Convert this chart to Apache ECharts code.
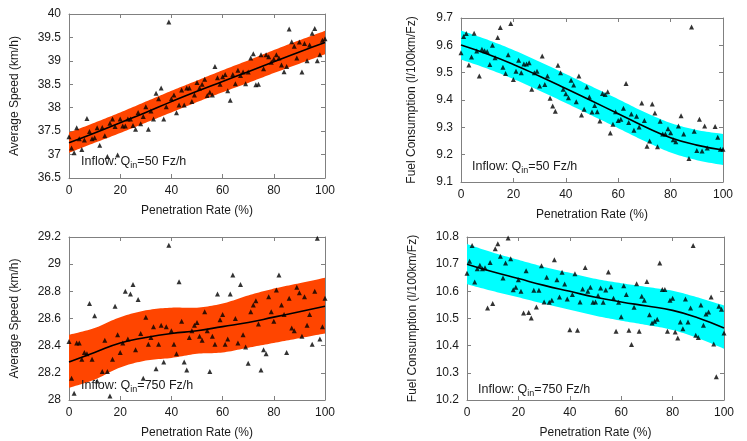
<!DOCTYPE html>
<html><head><meta charset="utf-8">
<script src="https://cdn.jsdelivr.net/npm/echarts@6/dist/echarts.min.js"></script>
<style>html,body{margin:0;padding:0;background:#fff}#c{width:747px;height:441px}</style>
</head><body><div id="c"></div>
<script>
// ---------- data ----------
const rate = [0,1,2,3,4,5,6,7,8,9,10,11,12,13,14,15,16,17,18,19,20,21,22,23,24,25,26,27,28,29,30,31,32,33,34,35,36,37,38,39,40,41,42,43,44,45,46,47,48,49,50,51,52,53,54,55,56,57,58,59,60,61,62,63,64,65,66,67,68,69,70,71,72,73,74,75,76,77,78,79,80,81,82,83,84,85,86,87,88,89,90,91,92,93,94,95,96,97,98,99,100];
const fitRate = [0,10,20,30,40,50,60,70,80,90,100];

const speed50 = [37.38,37.14,37.04,37.57,37.34,37.11,37.31,37.77,37.49,37.34,
 37.36,37.57,37.20,37.58,37.40,36.96,37.67,37.76,37.60,36.99,
 37.76,37.61,37.61,37.76,37.76,37.62,37.54,37.90,37.66,37.81,
 38.02,37.54,37.93,37.76,38.31,38.19,38.42,37.76,38.02,39.83,
 38.19,38.27,37.89,38.06,38.38,38.06,38.42,38.42,38.13,38.27,
 38.54,38.42,38.50,38.61,38.26,38.33,38.27,38.88,38.64,38.50,
 38.66,38.71,38.36,38.16,38.71,38.51,38.80,38.69,38.76,38.51,
 38.76,39.06,39.15,38.49,38.50,39.13,38.83,39.13,39.09,38.97,
 39.04,39.13,39.06,38.91,38.77,38.88,39.68,39.41,39.31,39.06,
 39.40,38.76,39.37,39.00,39.34,39.59,39.69,39.00,39.13,39.44,39.47];
const speed50Fit = [37.25,37.46,37.68,37.90,38.13,38.35,38.56,38.77,38.98,39.19,39.39];
const speed50Lo  = [37.04,37.25,37.46,37.68,37.90,38.12,38.33,38.53,38.74,38.94,39.14];
const speed50Hi  = [37.47,37.68,37.90,38.13,38.36,38.58,38.80,39.01,39.23,39.44,39.64];

const fuel50 = [9.573,9.632,9.643,9.528,9.557,9.644,9.579,9.488,9.586,9.580,
 9.577,9.530,9.600,9.555,9.629,9.665,9.520,9.497,9.566,9.680,
 9.475,9.505,9.545,9.500,9.532,9.532,9.536,9.439,9.500,9.505,
 9.451,9.561,9.457,9.488,9.406,9.378,9.359,9.527,9.500,9.439,
 9.423,9.408,9.472,9.455,9.394,9.488,9.345,9.366,9.448,9.411,
 9.356,9.380,9.357,9.323,9.424,9.420,9.430,9.279,9.311,9.357,
 9.325,9.330,9.370,9.460,9.318,9.349,9.289,9.341,9.301,9.389,
 9.325,9.231,9.250,9.385,9.352,9.229,9.322,9.276,9.276,9.295,
 9.280,9.255,9.247,9.305,9.342,9.276,'-',9.186,9.667,9.286,
 9.215,9.330,9.213,9.305,9.224,'-','-',9.303,9.264,9.220,9.220];
const fuel50Fit = [9.601,9.568,9.530,9.487,9.442,9.396,9.350,9.303,9.262,9.235,9.217];
const fuel50Lo  = [9.548,9.515,9.477,9.434,9.389,9.343,9.297,9.250,9.208,9.180,9.162];
const fuel50Hi  = [9.654,9.621,9.583,9.540,9.495,9.449,9.403,9.356,9.316,9.290,9.276];

const speed750 = [28.43,28.16,28.05,28.42,28.42,28.30,28.35,28.34,28.71,28.30,
 28.62,28.14,'-',28.21,28.44,28.21,28.03,28.30,28.69,28.48,
 28.35,28.42,28.80,28.45,28.78,28.85,28.37,28.74,28.49,28.16,
 28.61,28.41,28.46,28.54,28.23,28.41,28.55,28.28,28.54,29.14,
 28.51,28.41,28.34,28.87,28.58,28.28,28.22,28.46,28.51,28.55,
 28.57,28.47,28.44,28.65,28.51,28.21,28.47,28.41,28.78,28.59,
 28.63,28.41,28.45,28.78,28.92,28.60,28.42,28.85,28.48,28.39,
 28.27,28.65,28.70,28.73,28.56,28.22,28.37,28.34,28.76,28.65,
 28.58,28.81,28.92,28.70,28.63,28.35,28.75,28.53,28.51,28.83,
 28.79,28.47,28.76,28.55,28.63,28.41,28.80,29.19,28.45,28.54,28.75];
const speed750Fit = [28.28,28.35,28.42,28.46,28.49,28.51,28.54,28.57,28.61,28.65,28.69];
const speed750Lo  = [28.09,28.15,28.24,28.29,28.31,28.34,28.35,28.385,28.42,28.455,28.49];
const speed750Hi  = [28.48,28.53,28.61,28.66,28.68,28.68,28.71,28.77,28.82,28.86,28.90];

const fuel750 = [10.667,10.711,10.769,10.634,10.683,10.696,10.683,10.687,10.539,10.706,
 10.555,10.757,10.775,10.729,10.649,10.704,10.796,10.720,10.606,10.615,
 10.643,10.600,10.520,10.676,10.522,10.502,10.604,10.542,10.604,10.694,
 10.561,10.652,10.560,10.567,10.716,10.643,10.579,10.670,10.627,10.572,
 10.459,10.588,10.665,10.457,10.561,10.609,10.688,10.600,10.615,10.560,
 10.561,10.585,10.612,10.560,10.605,10.671,10.617,10.575,10.453,10.560,
 10.506,10.621,10.588,10.457,10.404,10.541,10.628,10.453,10.582,10.567,
 10.636,10.514,10.483,10.490,10.497,10.704,10.607,10.607,10.453,10.567,
 10.575,10.450,10.428,10.487,10.462,10.572,10.487,10.539,10.769,10.438,
 10.430,10.550,10.475,10.517,10.524,10.579,10.406,10.286,10.545,10.534,10.447];
const fuel750Fit = [10.700,10.672,10.647,10.622,10.600,10.578,10.561,10.546,10.530,10.502,10.465];
const fuel750Lo  = [10.626,10.601,10.578,10.554,10.532,10.510,10.492,10.476,10.458,10.427,10.389];
const fuel750Hi  = [10.774,10.743,10.716,10.690,10.668,10.646,10.630,10.616,10.602,10.577,10.548];

const xTitle = 'Penetration Rate (%)';
const yTitles = ['Average Speed (km/h)', 'Fuel Consumption (l/100km/Fz)', 'Average Speed (km/h)', 'Fuel Consumption (l/100km/Fz)'];
const inflows = ['50', '50', '750', '750'];
const yRanges = [[36.5, 40, 0.5], [9.1, 9.7, 0.1], [28, 29.2, 0.2], [10.2, 10.8, 0.1]];

// ---------- layout / style ----------
const FONT = '"Liberation Sans", Arial, Helvetica, sans-serif';
const FRAME = '#808080';
const TXT = '#1a1a1a';
const ORANGE = '#ff4500';
const CYAN = '#00ffff';

const panels = [
  {grid:{left:69, top:14, width:256, height:164}, ys:speed50, fit:speed50Fit, lo:speed50Lo, hi:speed50Hi, color:ORANGE, nameGap:48, note:[81,155]},
  {grid:{left:461, top:18, width:262, height:164}, ys:fuel50, fit:fuel50Fit, lo:fuel50Lo, hi:fuel50Hi, color:CYAN, nameGap:43, note:[472,160]},
  {grid:{left:69, top:237, width:256, height:163}, ys:speed750, fit:speed750Fit, lo:speed750Lo, hi:speed750Hi, color:ORANGE, nameGap:48, note:[81,379]},
  {grid:{left:467, top:237, width:257, height:163}, ys:fuel750, fit:fuel750Fit, lo:fuel750Lo, hi:fuel750Hi, color:CYAN, nameGap:48, note:[478,383]}
];

// Catmull-Rom sampling of pixel points (drawing geometry only)
function spline(pts, steps) {
  const out = [];
  for (let i = 0; i < pts.length - 1; i++) {
    const p0 = pts[i - 1] || pts[i], p1 = pts[i], p2 = pts[i + 1], p3 = pts[i + 2] || pts[i + 1];
    for (let s = 0; s < steps; s++) {
      const t = s / steps, t2 = t * t, t3 = t2 * t;
      const f = k => 0.5 * ((2 * p1[k]) + (-p0[k] + p2[k]) * t + (2 * p0[k] - 5 * p1[k] + 4 * p2[k] - p3[k]) * t2 + (-p0[k] + 3 * p1[k] - 3 * p2[k] + p3[k]) * t3);
      out.push([f(0), f(1)]);
    }
  }
  out.push(pts[pts.length - 1]);
  return out;
}

const fmt = v => String(+(+v).toFixed(2));
const grids = [], xAxes = [], yAxes = [], series = [], graphics = [];

panels.forEach((p, i) => {
  grids.push(Object.assign({containLabel:false}, p.grid));
  const [ymin, ymax, yint] = yRanges[i];
  ['bottom', 'top'].forEach(pos => {
    xAxes.push({
      type:'value', gridIndex:i, position:pos, min:0, max:100, interval:20,
      axisLine:{show:true, onZero:false, lineStyle:{color:FRAME, width:1}},
      axisTick:{show:true, inside:true, length:4, lineStyle:{color:FRAME}},
      axisLabel:{show:pos === 'bottom', color:TXT, fontSize:12, fontFamily:FONT, margin:7},
      splitLine:{show:false},
      name: pos === 'bottom' ? xTitle : '', nameLocation:'middle', nameGap:27,
      nameTextStyle:{color:TXT, fontSize:12, fontFamily:FONT}
    });
  });
  ['left', 'right'].forEach(pos => {
    yAxes.push({
      type:'value', gridIndex:i, position:pos, min:ymin, max:ymax, interval:yint,
      axisLine:{show:true, onZero:false, lineStyle:{color:FRAME, width:1}},
      axisTick:{show:true, inside:true, length:4, lineStyle:{color:FRAME}},
      axisLabel:{show:pos === 'left', color:TXT, fontSize:12, fontFamily:FONT, margin:8, formatter:fmt},
      splitLine:{show:false},
      name: pos === 'left' ? yTitles[i] : '', nameLocation:'middle', nameRotate:90, nameGap:p.nameGap,
      nameTextStyle:{color:TXT, fontSize:12, fontFamily:FONT}
    });
  });
  const xi = 2 * i, yi = 2 * i;
  series.push({
    type:'custom', xAxisIndex:xi, yAxisIndex:yi, silent:true, z:1,
    encode:{x:0, y:[1, 2]},
    data: fitRate.map((x, k) => [x, p.lo[k], p.hi[k]]),
    renderItem: (params, api) => {
      if (params.dataIndex !== 0) return null;
      const up = fitRate.map((x, k) => api.coord([x, p.hi[k]]));
      const low = fitRate.map((x, k) => api.coord([x, p.lo[k]])).reverse();
      const pts = spline(up, 12).concat(spline(low, 12));
      return {type:'polygon', shape:{points:pts}, style:{fill:p.color, stroke:null}};
    }
  });
  series.push({
    type:'line', xAxisIndex:xi, yAxisIndex:yi, smooth:true, symbol:'none',
    lineStyle:{color:'#000', width:1.6}, data: fitRate.map((x, k) => [x, p.fit[k]]), z:3, silent:true
  });
  series.push({
    type:'scatter', xAxisIndex:xi, yAxisIndex:yi, symbol:'triangle', symbolSize:5,
    itemStyle:{color:'#000'}, data: rate.map((x, k) => [x, p.ys[k]]), z:4, silent:true
  });
  graphics.push({
    type:'text', left:p.note[0], top:p.note[1], z:10,
    style:{
      text:'{a|Inflow: Q}{s|in}{a|=' + inflows[i] + ' Fz/h}',
      rich:{
        a:{fontSize:12.5, fontFamily:FONT, fill:TXT, lineHeight:18},
        s:{fontSize:9, fontFamily:FONT, fill:TXT, verticalAlign:'bottom'}
      }
    }
  });
});

const chart = echarts.init(document.getElementById('c'), null, {renderer:'canvas'});
chart.setOption({
  animation:false,
  backgroundColor:'#ffffff',
  grid:grids, xAxis:xAxes, yAxis:yAxes, series:series, graphic:graphics
});
</script>
</body></html>
